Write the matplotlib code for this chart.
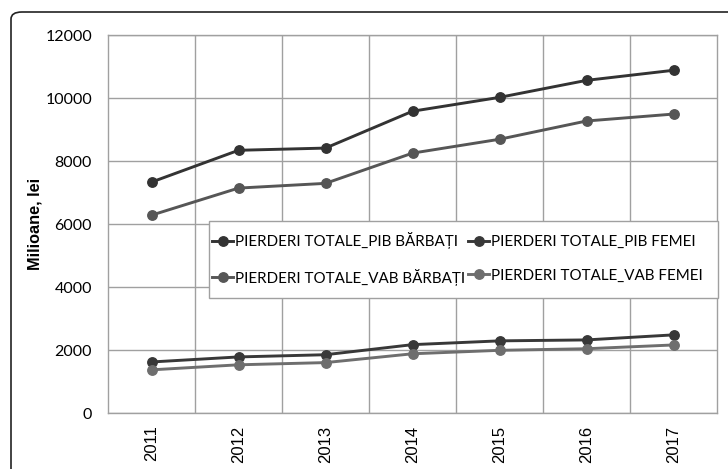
import matplotlib
matplotlib.use("Agg")
import matplotlib.pyplot as plt
from matplotlib.patches import FancyBboxPatch, Rectangle

years = ["2011", "2012", "2013", "2014", "2015", "2016", "2017"]
pib_barbati = [7330, 8340, 8410, 9580, 10020, 10560, 10880]
vab_barbati = [6280, 7140, 7290, 8250, 8690, 9270, 9490]
pib_femei = [1620, 1780, 1850, 2170, 2290, 2320, 2480]
vab_femei = [1370, 1530, 1600, 1880, 1990, 2040, 2160]

series = [
    ("PIERDERI TOTALE_PIB BĂRBAȚI", pib_barbati, "#333333"),
    ("PIERDERI TOTALE_VAB BĂRBAȚI", vab_barbati, "#565656"),
    ("PIERDERI TOTALE_PIB FEMEI", pib_femei, "#383838"),
    ("PIERDERI TOTALE_VAB FEMEI", vab_femei, "#6e6e6e"),
]

W, H = 728, 469
fig = plt.figure(figsize=(7.28, 4.69), dpi=100)
border = FancyBboxPatch((11 / W, -0.1), 1.2, (H - 12) / H + 0.1,
                        boxstyle="round,pad=0,rounding_size=0.015",
                        transform=fig.transFigure, facecolor="none",
                        edgecolor="#222222", linewidth=1.2, clip_on=False)
fig.patches.append(border)

L, R, T, B = 108, 717, 35, 413
ax = fig.add_axes([L / W, 1 - B / H, (R - L) / W, (B - T) / H])
x = list(range(len(years)))
for label, vals, col in series:
    ax.plot(x, vals, color=col, lw=2.1, marker="o", markersize=6.8, label=label)

ax.set_xlim(-0.5, len(years) - 0.5)
ax.set_ylim(0, 12000)
ax.set_yticks(range(0, 12001, 2000))
ax.set_yticklabels([str(v) for v in range(0, 12001, 2000)], fontfamily="Lato", fontsize=11.5)
ax.set_xticks(x)
ax.set_xticklabels(years, rotation=90, fontfamily="Liberation Sans", fontsize=12, va="top")
ax.set_xticks([i + 0.5 for i in range(len(years) - 1)], minor=True)
ax.tick_params(axis="both", which="both", length=0)
ax.tick_params(axis="y", pad=11.5)
ax.tick_params(axis="x", pad=9)
ax.grid(True, axis="y", which="major", color="#a0a0a0", lw=1)
ax.grid(True, axis="x", which="minor", color="#a0a0a0", lw=1)
ax.set_axisbelow(True)
for s in ax.spines.values():
    s.set_color("#a0a0a0")
    s.set_linewidth(1)

ax.set_ylabel("Milioane, lei", fontfamily="Liberation Sans", fontweight="bold", fontsize=11.7)
ax.yaxis.set_label_coords((42 - L) / (R - L), 0.5)

def axfx(px):
    return (px - L) / (R - L)

def axfy(py):
    return (B - py) / (B - T)

# legend frame
frame = Rectangle((axfx(209), axfy(298)), axfx(718) - axfx(209), axfy(221) - axfy(298),
                  transform=ax.transAxes, facecolor="white", edgecolor="#a0a0a0",
                  lw=1, zorder=4.5, clip_on=False)
ax.add_patch(frame)
leg = ax.legend(ncol=2, loc="upper left",
                bbox_to_anchor=(axfx(212), axfy(290), axfx(703) - axfx(212), axfy(232) - axfy(290)),
                mode="expand", prop={"family": "Lato", "size": 10.9},
                handlelength=1.4, handletextpad=0.12, columnspacing=0.0,
                labelspacing=1.3, borderpad=0, borderaxespad=0, frameon=False)

fig.savefig("out.png", dpi=100)
